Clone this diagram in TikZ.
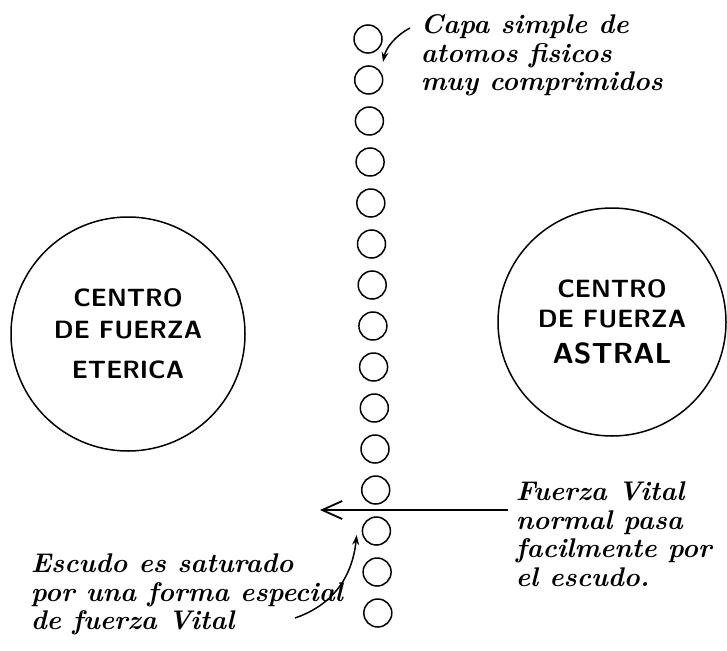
\documentclass[tikz,border=0pt]{standalone}
\usepackage{fontspec}
\usepackage{tikz}
\usetikzlibrary{arrows.meta}
\newcommand{\hand}{\bfseries\itshape\fontsize{27}{28.5}\selectfont}
\newcommand{\bloque}{\sffamily\bfseries\fontsize{25}{34}\selectfont\addfontfeature{LetterSpace=17}}

\begin{document}
\begin{tikzpicture}[x=1pt,y=-1pt,line width=1.5pt,
  atom/.style={circle,draw,minimum size=28,inner sep=0},
  centro/.style={circle,draw,minimum size=234,align=center,font=\bloque},
  nota/.style={anchor=north west,align=left,inner sep=0,font=\hand}]
  \useasboundingbox (0,0) rectangle (727,650);

  % capa de atomos
  \foreach \i in {0,...,14}
    \node [atom] (a\i) at (368+\i*0.7,39+41*\i) {};

  \node [centro] (eterica) at (128,334) {CENTRO\\[-2pt]DE FUERZA\\[6pt]ETERICA};
  \node [centro,minimum size=228] (astral) at (612,322) {CENTRO\\[-4pt]DE FUERZA\\[2pt]{\fontsize{29}{34}\selectfont ASTRAL}};

  \node [nota] (capa) at (420,14) {Capa simple de\\atomos fisicos\\muy comprimidos};
  \node [nota] (vital) at (515,481) {Fuerza Vital\\normal pasa\\facilmente por\\el escudo.};
  \node [nota] (escudo) at (30,553) {Escudo es saturado\\por una forma especial\\de fuerza Vital};

  \coordinate (t1) at (383,62);
  \coordinate (t3) at (320,510);
  \coordinate (s2) at (295,618);

  \draw [-{Stealth[length=10pt,width=7pt]}] ([shift={(-10,14)}]capa.north west)
    .. controls (395,36) and (386,48) .. (t1);
  \draw [line width=1.8pt,-{Straight Barb[length=20pt,width=18pt]}] ([shift={(-7,29)}]vital.north west) -- (t3);
  \draw [-{Stealth[length=10pt,width=7pt]}] (s2)
    .. controls (330,606) and (352,580) .. ([shift={(-5,4)}]a12.west);
\end{tikzpicture}
\end{document}
